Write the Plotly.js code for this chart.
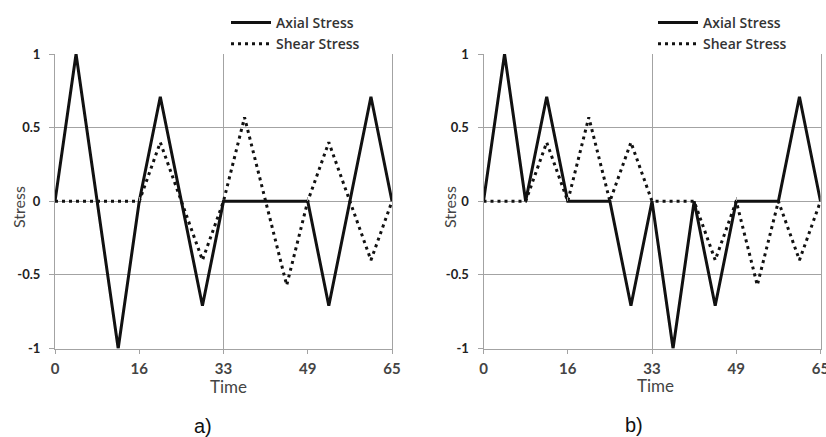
<!DOCTYPE html>
<html>
<head>
<meta charset="utf-8">
<script src="https://cdn.plot.ly/plotly-3.0.1.min.js"></script>
<style>html,body{margin:0;padding:0;background:#fff;}#chart{width:826px;height:437px;}</style>
</head>
<body>
<div id="chart"></div>
<script>
// ---- data ----
var time = [0, 4.06, 8.13, 12.19, 16.25, 20.31, 24.38, 28.44, 32.5, 36.56, 40.63, 44.69, 48.75, 52.81, 56.88, 60.94, 65];
var axialA = [0, 1, 0, -1, 0, 0.71, 0, -0.71, 0, 0, 0, 0, 0, -0.71, 0, 0.71, 0];
var shearA = [0, 0, 0, 0, 0, 0.4, 0, -0.4, 0, 0.57, 0, -0.57, 0, 0.4, 0, -0.4, 0];
var axialB = [0, 1, 0, 0.71, 0, 0, 0, -0.71, 0, -1, 0, -0.71, 0, 0, 0, 0.71, 0];
var shearB = [0, 0, 0, 0.4, 0, 0.57, 0, 0.4, 0, 0, 0, -0.4, 0, -0.57, 0, -0.4, 0];
var xMajorVals = [0, 32.5, 65];
var xMajorText = ["0", "33", "65"];
var xMinorVals = [16.25, 48.75];
var xMinorText = ["16", "49"];
var yTickVals = [-1, -0.5, 0, 0.5, 1];
var yTickText = ["-1", "-0.5", "0", "0.5", "1"];
var seriesNames = ["Axial Stress", "Shear Stress"];

// ---- layout helpers ----
var W = 826, H = 437;
function px(v){ return v / W; }
function py(v){ return (H - v) / H; }
var yDom = [py(348.5), py(54)];
var xDomA = [px(55), px(392)];
var xDomB = [px(483.5), px(820.5)];
var yZero = (yDom[0] + yDom[1]) / 2;
var gridColor = '#a3a3a3';
var xTickFont = {family:'Lato', size:15, color:'#444', weight:'bold'};

function solid(){ return {color:'#111', width:3}; }
function dotted(){ return {color:'#111', width:3, dash:'3px,4px'}; }
// invisible helper traces so that the overlaying tick axes get drawn
function helper(xa, ya, yv){
  return {x: time, y: yv, mode:'none', xaxis: xa, yaxis: ya, showlegend:false, hoverinfo:'skip'};
}

var traces = [
  {x: time, y: axialA, mode:'lines', name: seriesNames[0], line: solid(), xaxis:'x', yaxis:'y', legend:'legend'},
  {x: time, y: shearA, mode:'lines', name: seriesNames[1], line: dotted(), xaxis:'x', yaxis:'y', legend:'legend'},
  {x: time, y: axialB, mode:'lines', name: seriesNames[0], line: solid(), xaxis:'x2', yaxis:'y2', legend:'legend2'},
  {x: time, y: shearB, mode:'lines', name: seriesNames[1], line: dotted(), xaxis:'x2', yaxis:'y2', legend:'legend2'},
  helper('x3', 'y', axialA), helper('x4', 'y2', axialB),
  helper('x5', 'y', axialA), helper('x6', 'y2', axialB)
];

function mainX(dom){
  return {domain: dom, range:[0,65], tickmode:'array', tickvals: xMajorVals, ticktext: xMajorText,
    showgrid:true, gridcolor:gridColor, gridwidth:1, zeroline:false, showline:true, linecolor:gridColor, linewidth:1,
    ticks:'outside', ticklen:4, tickcolor:gridColor, ticklabelstandoff:2, ticklabeloverflow:'allow',
    tickfont: xTickFont, fixedrange:true};
}
function minorX(over, yAnchor, dom){
  return {overlaying: over, anchor: yAnchor, domain: dom, range:[0,65], tickmode:'array', tickvals: xMinorVals, ticktext: xMinorText,
    showgrid:false, ticks:'outside', ticklen:4, tickcolor:gridColor, ticklabelstandoff:2, ticklabeloverflow:'allow',
    tickfont: xTickFont, zeroline:false, showline:false, side:'bottom', fixedrange:true};
}
function zeroTickX(over, dom){
  return {overlaying: over, anchor:'free', position: yZero, domain: dom, range:[0,65], tickmode:'array', tickvals: xMinorVals,
    showgrid:false, showticklabels:false, ticks:'inside', ticklen:4, tickcolor:gridColor, zeroline:false, showline:false, fixedrange:true};
}
function mainY(anchor){
  return {domain: yDom, anchor: anchor, range:[-1,1], tickmode:'array', tickvals: yTickVals, ticktext: yTickText,
    showgrid:true, gridcolor:gridColor, gridwidth:1, zeroline:true, zerolinecolor:gridColor, zerolinewidth:1,
    showline:true, linecolor:gridColor, linewidth:1, mirror:true,
    ticks:'outside', ticklen:5, tickcolor:gridColor, ticklabelstandoff:6,
    tickfont:{family:'Lato', size:13, color:'#222', weight:'bold'}, fixedrange:true};
}
function legendAt(xPix){
  return {x: px(xPix), xanchor:'left', y: py(7), yanchor:'top', bgcolor:'rgba(0,0,0,0)', borderwidth:0,
    font:{family:'Open Sans', size:14, color:'#333', weight:600}, tracegroupgap:0, itemwidth:40};
}
function ann(text, xp, yp, size, angle, fam, col){
  return {text:text, x: px(xp), y: py(yp), xref:'paper', yref:'paper', showarrow:false,
    xanchor:'center', yanchor:'middle', textangle: angle || 0,
    font:{family: fam || 'Lato', size:size, color: col || '#444'}};
}

var layout = {
  width: W, height: H, margin:{l:0, r:0, t:0, b:0}, paper_bgcolor:'#fff', plot_bgcolor:'#fff',
  showlegend:true,
  xaxis: mainX(xDomA), yaxis: mainY('x'),
  xaxis2: mainX(xDomB), yaxis2: mainY('x2'),
  xaxis3: minorX('x', 'y', xDomA), xaxis4: minorX('x2', 'y2', xDomB),
  xaxis5: zeroTickX('x', xDomA), xaxis6: zeroTickX('x2', xDomB),
  legend: legendAt(226), legend2: legendAt(653),
  annotations: [
    ann('Stress', 18, 207, 16, -90),
    ann('Stress', 449, 207, 16, -90),
    ann('Time', 228, 386, 17),
    ann('Time', 655, 385, 17),
    ann('a)', 203, 426, 20, 0, 'Liberation Sans', '#111'),
    ann('b)', 634, 425, 20, 0, 'Liberation Sans', '#111')
  ]
};

Plotly.newPlot('chart', traces, layout, {displayModeBar:false, staticPlot:true});
</script>
</body>
</html>
